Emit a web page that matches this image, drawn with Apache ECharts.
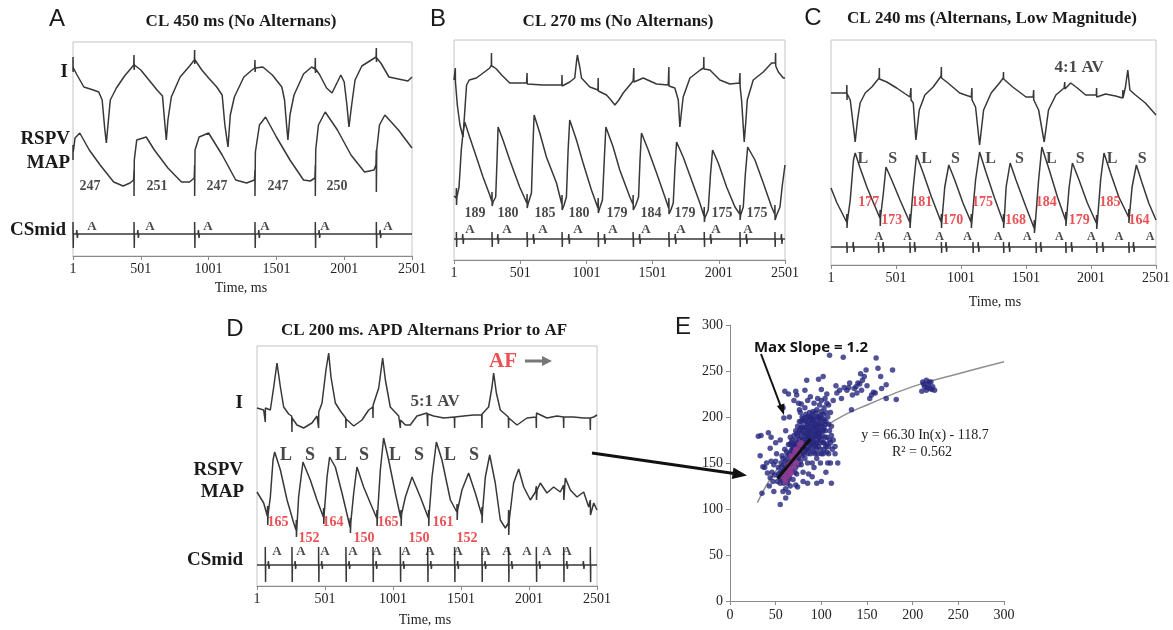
<!DOCTYPE html>
<html lang="en">
<head>
  <meta charset="UTF-8">
  <script src="https://cdn.jsdelivr.net/npm/echarts@6/dist/echarts.min.js"></script>
  <style>body{margin:0;background:#fff;}</style>
</head>
<body>
<div id="main" style="width:1173px;height:630px;"></div>
<script>
  // time axis: 0 ms is labelled "1"; trace levels are read as pixel rows of the figure
  var traceI_A = [[0,70],[0,57],[1,72],[3,68],[30,75],[80,87],[150,90],[190,92],[215,100],[235,130],[246,143],[258,125],[275,100],[320,88],[380,76],[430,68],[448,65],[450,55],[451,70],[453,65],[500,70],[560,80],[620,90],[660,96],[675,120],[688,140],[700,120],[725,97],[790,77],[860,66],[895,60],[897,50],[898,64],[900,60],[950,70],[1000,78],[1060,87],[1100,95],[1120,125],[1143,147],[1160,115],[1190,97],[1260,77],[1320,70],[1340,68],[1342,60],[1343,72],[1345,68],[1400,67],[1470,75],[1540,87],[1560,100],[1575,125],[1585,140],[1600,115],[1630,95],[1700,74],[1760,67],[1785,69],[1787,58],[1788,73],[1790,69],[1820,75],[1870,88],[1910,93],[1950,82],[1975,75],[2000,82],[2020,105],[2035,127],[2055,105],[2080,80],[2130,66],[2200,60],[2235,57],[2237,48],[2238,62],[2240,58],[2270,63],[2330,77],[2400,79],[2470,81],[2500,77]];
  var traceMAP_A = [[0,160],[0,145],[2,152],[15,138],[50,133],[120,150],[200,165],[300,182],[370,186],[420,183],[447,180],[450,170],[450,196],[452,160],[470,140],[540,137],[600,150],[700,168],[800,182],[860,182],[894,178],[897,165],[897,196],[900,150],[930,137],[1000,133],[1100,155],[1200,180],[1280,183],[1338,180],[1342,170],[1342,196],[1345,152],[1375,125],[1420,117],[1500,137],[1600,160],[1700,180],[1750,181],[1784,178],[1787,165],[1787,196],[1790,150],[1810,125],[1860,112],[1950,130],[2050,155],[2150,172],[2220,170],[2234,165],[2237,150],[2237,192],[2240,150],[2260,125],[2300,115],[2400,130],[2500,148]];
  var stimA = [0,450,897,1342,1787,2237];
  var atrA = [30,480,927,1372,1817,2267];
  var apdA = [247,251,247,247,250];
  var apdA_t = [125,620,1062,1512,1947];
  var aMarkA_t = [140,568,996,1416,1858,2323];

  var traceI_B = [[0,80],[10,80],[10,68],[11,82],[13,80],[25,105],[45,125],[68,137],[82,110],[95,85],[115,80],[169,78],[230,72],[270,68],[282,65],[283,53],[284,66],[300,67],[320,69],[360,75],[421,83],[480,83],[548,83],[552,73],[553,84],[560,83],[673,85],[780,85],[814,85],[816,75],[817,86],[820,85],[874,82],[912,78],[925,62],[932,55],[942,62],[950,67],[963,78],[1026,87],[1087,90],[1089,78],[1090,91],[1095,91],[1152,95],[1185,100],[1215,105],[1245,100],[1278,93],[1353,81],[1356,81],[1358,68],[1359,82],[1362,80],[1429,78],[1530,84],[1618,85],[1621,85],[1623,67],[1624,86],[1630,86],[1668,88],[1694,100],[1706,127],[1718,112],[1731,97],[1782,78],[1860,70],[1885,68],[1887,57],[1888,69],[1900,68],[1933,70],[2008,80],[2084,84],[2155,83],[2160,73],[2161,86],[2165,92],[2172,100],[2192,142],[2205,120],[2215,100],[2260,80],[2336,72],[2399,63],[2427,63],[2429,53],[2430,66],[2450,72],[2487,78],[2500,78]];
  var traceMAP_B = [[0,196],[16,198],[18,188],[19,205],[22,197],[38,187],[55,150],[68,133],[81,122],[118,137],[169,157],[219,177],[270,195],[285,201],[287,192],[288,206],[295,202],[315,197],[325,160],[333,127],[370,140],[421,160],[496,187],[550,203],[552,194],[553,208],[559,204],[585,193],[595,150],[605,115],[648,133],[698,157],[774,183],[814,204],[816,195],[817,210],[829,206],[849,197],[862,150],[874,120],[925,140],[975,163],[1038,190],[1087,208],[1089,198],[1090,213],[1096,210],[1121,200],[1135,160],[1147,127],[1202,147],[1252,170],[1328,197],[1351,204],[1353,195],[1354,210],[1373,205],[1394,197],[1405,160],[1416,133],[1467,150],[1530,173],[1593,197],[1621,208],[1623,198],[1624,214],[1638,210],[1656,203],[1668,170],[1681,142],[1731,157],[1794,180],[1857,203],[1888,216],[1890,207],[1891,222],[1895,218],[1920,210],[1937,175],[1953,150],[1996,163],[2059,187],[2122,207],[2158,214],[2160,205],[2161,220],[2165,215],[2185,207],[2200,175],[2218,147],[2273,160],[2336,183],[2399,207],[2422,214],[2424,205],[2425,220],[2437,215],[2462,207],[2480,185],[2500,165]];
  var stimB = [18,287,552,816,1089,1353,1623,1890,2160,2424];
  var atrB = [68,333,602,869,1139,1404,1673,1940,2210,2475];
  var apdB = [189,180,185,180,179,184,179,175,175];
  var apdB_t = [159,408,687,944,1231,1488,1745,2024,2289];
  var aMarkB_t = [121,400,672,937,1201,1450,1715,1979,2221];

  var traceI_C = [[0,93],[120,93],[122,85],[123,100],[125,94],[148,100],[173,127],[186,142],[204,120],[224,103],[263,93],[314,87],[370,78],[372,68],[373,79],[380,78],[429,82],[505,88],[607,97],[613,97],[615,88],[616,100],[633,103],[653,140],[679,110],[722,95],[786,87],[847,76],[849,67],[850,78],[858,78],[900,83],[990,93],[1079,97],[1082,97],[1084,88],[1085,100],[1112,107],[1143,145],[1174,110],[1232,93],[1296,83],[1325,78],[1327,72],[1328,79],[1335,80],[1398,87],[1500,97],[1555,97],[1559,90],[1560,100],[1597,110],[1640,142],[1673,110],[1730,95],[1793,88],[1796,88],[1798,82],[1799,89],[1844,83],[1895,88],[1959,95],[2041,95],[2043,88],[2044,97],[2112,94],[2189,96],[2243,98],[2245,90],[2246,98],[2265,87],[2283,70],[2299,90],[2342,95],[2418,103],[2500,115]];
  var traceMAP_C = [[0,188],[46,203],[97,216],[120,222],[122,214],[123,228],[126,221],[148,200],[173,160],[186,153],[224,168],[276,187],[327,203],[376,218],[378,210],[379,226],[382,216],[403,193],[423,167],[467,180],[531,200],[605,222],[607,214],[608,228],[612,221],[633,187],[658,155],[709,173],[773,197],[847,222],[849,214],[850,228],[853,221],[875,187],[906,165],[952,180],[1015,203],[1077,222],[1079,214],[1080,228],[1084,221],[1112,180],[1143,152],[1194,173],[1258,198],[1325,222],[1327,214],[1328,228],[1332,221],[1347,187],[1378,163],[1423,180],[1500,207],[1562,228],[1564,220],[1565,233],[1570,226],[1597,180],[1622,147],[1679,170],[1742,197],[1804,220],[1806,212],[1807,226],[1812,218],[1832,187],[1857,163],[1908,180],[1972,203],[2041,223],[2043,215],[2044,229],[2050,220],[2074,180],[2100,153],[2150,173],[2214,197],[2289,217],[2291,209],[2292,223],[2296,215],[2316,187],[2349,165],[2393,183],[2444,203],[2500,220]];
  var stimC = [122,365,607,849,1092,1327,1577,1806,2043,2291];
  var atrC = [173,403,645,887,1135,1372,1615,1852,2092,2329];
  var apdC = [177,173,181,170,175,168,184,179,185,164];
  var apdC_t = [291,468,698,936,1166,1419,1656,1910,2147,2370];
  var beatC = ['L','S','L','S','L','S','L','S','L','S'];
  var beatC_t = [245,475,736,958,1227,1449,1695,1917,2163,2393];
  var aMarkC_t = [368,590,836,1051,1288,1511,1756,2002,2216,2454];

  var traceI_D = [[0,408],[49,410],[59,410],[61,410],[61,422],[62,408],[98,410],[123,387],[147,363],[172,387],[196,407],[233,414],[255,416],[257,416],[257,432],[258,418],[294,425],[343,428],[404,423],[441,416],[451,414],[453,414],[453,428],[454,412],[478,403],[507,370],[527,353],[544,377],[576,403],[613,411],[652,418],[654,418],[654,428],[655,419],[711,426],[772,420],[821,410],[851,407],[853,407],[853,418],[854,405],[895,388],[924,358],[944,380],[980,407],[1042,416],[1052,418],[1054,418],[1054,428],[1055,420],[1091,425],[1127,425],[1176,416],[1250,413],[1255,413],[1255,426],[1256,414],[1299,416],[1373,418],[1451,417],[1453,417],[1453,428],[1454,417],[1520,416],[1593,415],[1652,415],[1654,415],[1654,428],[1655,414],[1703,407],[1728,387],[1740,373],[1760,393],[1789,410],[1848,417],[1850,417],[1850,428],[1851,418],[1912,425],[1985,418],[2052,417],[2054,417],[2054,428],[2055,413],[2132,418],[2206,416],[2253,417],[2255,417],[2255,428],[2256,417],[2328,417],[2402,418],[2449,418],[2451,418],[2451,430],[2452,418],[2476,417],[2500,415]];
  var traceMAP_D = [[0,492],[49,503],[76,516],[78,506],[79,525],[82,514],[98,497],[118,460],[130,452],[172,470],[221,500],[270,523],[287,530],[289,520],[290,537],[293,528],[306,497],[338,462],[392,480],[441,500],[488,517],[490,508],[491,524],[494,514],[515,477],[534,457],[576,467],[625,493],[684,527],[686,518],[687,533],[690,522],[711,493],[735,467],[784,487],[833,503],[880,518],[882,510],[883,526],[886,515],[907,470],[931,438],[968,460],[1017,493],[1057,518],[1059,510],[1060,526],[1063,514],[1091,497],[1140,477],[1201,497],[1260,518],[1262,510],[1263,526],[1266,514],[1287,477],[1319,442],[1360,460],[1422,500],[1469,512],[1471,504],[1472,520],[1475,510],[1507,490],[1556,473],[1605,493],[1652,515],[1654,507],[1655,523],[1658,512],[1679,477],[1711,455],[1752,483],[1789,520],[1826,528],[1848,523],[1850,510],[1851,535],[1855,520],[1887,483],[1924,469],[1961,487],[2010,500],[2047,492],[2054,486],[2055,500],[2060,490],[2083,483],[2132,493],[2181,487],[2230,492],[2255,485],[2256,500],[2267,478],[2304,490],[2353,497],[2402,492],[2439,507],[2451,500],[2452,515],[2476,503],[2500,510]];
  var stimD = [61,257,453,654,853,1054,1255,1453,1654,1850,2054,2255,2451];
  var atrD = [86,282,478,679,878,1079,1280,1478,1679,1875,2079,2280,2402];
  var apdD = [165,152,164,150,165,150,161,152];
  var apdD_t = [154,382,559,787,963,1191,1368,1544];
  var beatD = ['L','S','L','S','L','S','L','S'];
  var beatD_t = [213,390,618,787,1015,1191,1419,1596];
  var aMarkD_t = [147,324,500,706,882,1096,1272,1478,1684,1838,1985,2132,2279];

  var timeTicks = [1,501,1001,1501,2001,2501];

  // panel E: DI (x) vs APD (y)
  var restPts = [[31,179],[34,180],[42,183],[33,158],[44,166],[36,146],[41,139],[35,117],[55,105],[48,119],[58,119],[61,122],[60,228],[59,199],[72,228],[73,224],[82,229],[84,240],[78,214],[76,208],
    [102,244],[109,267],[124,265],[104,220],[108,213],[113,218],[120,229],[122,220],[128,229],[133,208],[134,224],[138,233],[140,237],[144,229],[147,244],[149,251],[153,220],[157,227],[160,264],[162,253],[165,244],[166,231],[171,235],[178,251],[171,220],[182,219],[159,226],[131,237],[136,231],[142,236],[145,240],[150,234],[155,224],[97,241],[100,230],[106,225],[116,234],[125,232],[130,232],[139,226],[143,247],[117,226],
    [211,238],[213,233],[215,240],[217,235],[219,231],[222,233],[220,238],[210,228],[215,229],[224,229],[212,236],[218,238],[216,232],[221,230],
    [52,130],[54,135],[55,128],[57,140],[58,133],[60,137],[61,145],[62,130],[63,150],[64,140],[65,135],[66,147],[67,155],[68,142],[69,132],[70,150],[71,160],[72,145],[73,138],[74,155],[75,165],[63,128],[66,125],[59,148],[56,150],[53,145],[50,152],[48,148],[46,140],[45,152],[49,137],[51,160],[47,130],[44,134],[57,158],[62,162],[68,165],[70,170],[64,170],[60,165],
    [72,175],[74,180],[75,170],[76,185],[77,160],[78,178],[79,190],[80,168],[81,182],[82,175],[83,195],[84,165],[85,185],[86,178],[87,170],[88,190],[89,182],[90,175],[91,198],[92,168],[93,188],[94,180],[95,172],[96,195],[97,185],[98,178],[99,165],[100,190],[101,180],[102,172],[103,197],[104,185],[105,168],[106,178],[108,160],[110,172],[112,165],[107,150],[111,128],[99,150],[95,155],[92,145],[88,160],[85,150],[82,155],[78,148],[80,140],[86,138],[90,150],[96,160],[93,160],[89,170],[84,200],[87,205],[90,203],[94,205],[97,200],[100,206],[102,203],[98,193],[95,190],[92,195],[86,195],[81,196],[79,200],[76,195],[74,190],[72,185],[70,180],[68,175],[66,178],[77,205],[82,210],[88,198],[92,178],[85,172],[80,188],[83,180],[91,185],[96,182],[100,175],[104,192],[107,200],[105,205],[109,185],[113,175],[115,168],[111,190],[75,148],[79,158],[83,165],[87,180],[94,168],[98,172],[102,160],[106,170],[73,168],[69,160],[65,160],[71,140],[77,152],[80,130],[85,128],[95,128],[74,124],
    [74,172],[76,176],[78,183],[80,176],[81,170],[82,188],[83,172],[84,182],[85,192],[86,186],[87,175],[88,184],[89,193],[90,188],[91,178],[92,190],[93,182],[94,192],[95,185],[96,175],[97,190],[98,198],[99,185],[101,193],[103,188],[105,195],[78,195],[80,198],[83,203],[86,200],[89,200],[91,206],[93,200],[95,208],[99,202],[101,198],[76,165],[79,172],[82,162],[85,160],[88,165],[91,162],[94,165],[97,168],[100,160],[103,165],[106,162],[109,175],[111,180],[74,160],[71,155],[69,168],[67,163],[65,152],[63,158],[61,153],[59,142],[57,145],[55,140],[53,138],[56,132],[59,128],[62,136],[64,132],[58,155],[66,170],[72,170],[77,188],[84,190],[90,196],[96,200],[102,185],[108,192],[104,178],[98,182],[92,172],[86,166],[80,160],[75,155],[70,165],[67,172],[73,182],[79,185],[85,178],[91,172],[97,178],[103,172],[108,168],
    [64,225],[70,218],[75,215],[58,210],[92,215],[98,213],[103,210],[96,220],[88,222],[85,218],[100,218],[106,215],[110,205],[65,200],[61,185],[55,175],[50,172],[45,178],[40,150],[38,145],[43,125],[61,112],[64,118],[72,126],[90,135],[105,140],[110,150],[115,160],[118,150],[100,130]];
  var densePts = [[60,138],[62,142],[64,148],[66,150],[67,140],[69,155],[70,145],[72,158],[73,150],[75,160],[63,135],[65,143],[68,152],[71,162],[58,135],[61,130],[74,165],[76,170],[78,172],[66,138],[60,132],[63,145],[67,158],[70,155],[72,165]];
  var fitPts = [[30,107],[40,126],[50,141],[60,153],[70,163],[80,172],[100,187],[125,202],[150,213],[200,233],[250,247],[300,260]];
  var slopePts = [[52,133],[88,176]];

  var chart = echarts.init(document.getElementById('main'));

  var serif = '"Liberation Serif", "DejaVu Serif", serif';
  var sans = '"Liberation Sans", Arial, sans-serif';
  var red = '#e3262b';

  function csTrace(base, stim, atr, up, down, aAmp) {
    var ev = [];
    stim.forEach(function (t) { ev.push([t, 's']); });
    atr.forEach(function (t) { ev.push([t, 'a']); });
    ev.sort(function (a, b) { return a[0] - b[0]; });
    var d = [[0, base]];
    ev.forEach(function (e) {
      var t = e[0];
      if (e[1] === 's') {
        d.push([t, base], [t, base - up], [t + 2, base + down], [t + 3, base]);
      } else {
        d.push([t - 5, base], [t - 2, base - aAmp], [t + 2, base + aAmp], [t + 5, base]);
      }
    });
    d.push([2500, base]);
    return d;
  }

  function trace(idx, data) {
    return {
      type: 'line', xAxisIndex: idx, yAxisIndex: idx, data: data,
      symbol: 'none', silent: true, clip: true,
      lineStyle: {color: '#383838', width: 1.5}
    };
  }

  function texts(idx, xs, y, vals, size, color) {
    return {
      type: 'scatter', xAxisIndex: idx, yAxisIndex: idx, silent: true,
      symbolSize: 1, itemStyle: {color: 'rgba(0,0,0,0)'},
      data: xs.map(function (x, i) { return [x, y, String(vals[i])]; }),
      label: {
        show: true, position: 'inside', formatter: function (p) { return p.data[2]; },
        fontFamily: serif, fontWeight: 'bold', fontSize: size, color: color || '#1a1a1a'
      },
      z: 5
    };
  }

  function rep(s, n) { var a = []; for (var i = 0; i < n; i++) a.push(s); return a; }

  var boxes = [
    {left: 73, top: 42, width: 339, height: 214},
    {left: 454, top: 40, width: 331, height: 220},
    {left: 831, top: 40, width: 326, height: 225},
    {left: 257, top: 346, width: 340, height: 240}
  ];

  var grids = boxes.map(function (b) {
    return {left: b.left, top: b.top, width: b.width, height: b.height, show: true, borderColor: '#c4c4c4', borderWidth: 1, backgroundColor: '#fff'};
  });
  grids.push({left: 730, top: 325, width: 274, height: 276});

  var xAxes = boxes.map(function (b, i) {
    return {
      type: 'value', gridIndex: i, min: 0, max: 2500, interval: 500,
      axisLine: {lineStyle: {color: '#8a8a8a'}},
      axisTick: {show: true, length: 4, lineStyle: {color: '#8a8a8a'}},
      splitLine: {show: false},
      axisLabel: {margin: 6, fontFamily: serif, fontSize: 14, color: '#222', formatter: function (v) { return timeTicks[v / 500]; }}
    };
  });
  var yAxes = boxes.map(function (b, i) {
    return {type: 'value', gridIndex: i, min: b.top, max: b.top + b.height, inverse: true, show: false};
  });
  xAxes.push({
    type: 'value', gridIndex: 4, min: 0, max: 300, interval: 50,
    axisLine: {lineStyle: {color: '#8a8a8a'}}, axisTick: {length: 4, lineStyle: {color: '#8a8a8a'}},
    splitLine: {show: false}, axisLabel: {margin: 7, fontFamily: serif, fontSize: 14, color: '#222'}
  });
  yAxes.push({
    type: 'value', gridIndex: 4, min: 0, max: 300, interval: 50,
    axisLine: {show: true, lineStyle: {color: '#8a8a8a'}}, axisTick: {show: true, length: 4, lineStyle: {color: '#8a8a8a'}},
    splitLine: {show: false}, axisLabel: {margin: 7, fontFamily: serif, fontSize: 14, color: '#222'}
  });

  var series = [
    trace(0, traceI_A), trace(0, traceMAP_A), trace(0, csTrace(234, stimA, atrA, 12, 14, 4)),
    texts(0, apdA_t, 186, apdA, 14),
    texts(0, aMarkA_t, 227, rep('A', 6), 13),

    trace(1, traceI_B), trace(1, traceMAP_B), trace(1, csTrace(239, stimB, atrB, 7, 8, 5)),
    texts(1, apdB_t, 213, apdB, 14),
    texts(1, aMarkB_t, 230, rep('A', 9), 13),

    trace(2, traceI_C), trace(2, traceMAP_C), trace(2, csTrace(247, stimC, atrC, 5, 6, 5)),
    texts(2, apdC_t.filter(function (t, i) { return i % 2 === 0; }), 202, apdC.filter(function (t, i) { return i % 2 === 0; }), 14, red),
    texts(2, apdC_t.filter(function (t, i) { return i % 2 === 1; }), 220, apdC.filter(function (t, i) { return i % 2 === 1; }), 14, red),
    texts(2, beatC_t, 159, beatC, 16),
    texts(2, aMarkC_t, 237, rep('A', 10), 12),
    texts(2, [1909], 68, ['4:1 AV'], 17),

    trace(3, traceI_D), trace(3, traceMAP_D), trace(3, csTrace(565, stimD, atrD, 18, 17, 4)),
    texts(3, apdD_t.filter(function (t, i) { return i % 2 === 0; }), 522, apdD.filter(function (t, i) { return i % 2 === 0; }), 14, red),
    texts(3, apdD_t.filter(function (t, i) { return i % 2 === 1; }), 538, apdD.filter(function (t, i) { return i % 2 === 1; }), 14, red),
    texts(3, beatD_t, 455, beatD, 18),
    texts(3, aMarkD_t, 552, rep('A', 13), 13),
    texts(3, [1309], 402, ['5:1 AV'], 17),
    texts(3, [1809], 362, ['AF'], 21, red),

    {type: 'line', xAxisIndex: 4, yAxisIndex: 4, data: fitPts, smooth: true, symbol: 'none', silent: true,
      lineStyle: {color: '#8f8f8f', width: 1.5}, z: 2},
    {type: 'scatter', xAxisIndex: 4, yAxisIndex: 4, data: restPts, symbolSize: 5.5, silent: true,
      itemStyle: {color: '#27277e'}, z: 3},
    {type: 'scatter', xAxisIndex: 4, yAxisIndex: 4, data: densePts, symbolSize: 5.5, silent: true,
      itemStyle: {color: '#8e3c8f', opacity: 0.85}, z: 3},
    {type: 'line', xAxisIndex: 4, yAxisIndex: 4, data: slopePts, symbol: 'none', silent: true,
      lineStyle: {color: '#111', width: 3}, z: 4}
  ];

  function txt(s, x, y, font, color, align) {
    return {type: 'text', x: x, y: y, silent: true, z: 10,
      style: {text: s, font: font, fill: color || '#1a1a1a', align: align || 'center', verticalAlign: 'middle'}};
  }
  var tFont = 'bold 17px ' + serif;
  var chFont = 'bold 19px ' + serif;
  var pFont = '24px ' + sans;

  var graphic = [
    txt('A', 57, 19, pFont), txt('CL 450 ms (No Alternans)', 241, 22, tFont),
    txt('I', 68, 72, chFont, null, 'right'), txt('RSPV', 70, 139, chFont, null, 'right'), txt('MAP', 70, 163, chFont, null, 'right'), txt('CSmid', 66, 230, chFont, null, 'right'),
    txt('Time, ms', 241, 288, '14px ' + serif, '#222'),

    txt('B', 438, 19, pFont), txt('CL 270 ms (No Alternans)', 618, 22, tFont),

    txt('C', 813, 18, pFont), txt('CL 240 ms (Alternans, Low Magnitude)', 992, 19, tFont),
    txt('Time, ms', 995, 302, '14px ' + serif, '#222'),

    txt('D', 235, 329, pFont), txt('CL 200 ms. APD Alternans Prior to AF', 424, 331, tFont),
    txt('I', 243, 403, chFont, null, 'right'), txt('RSPV', 243, 470, chFont, null, 'right'), txt('MAP', 244, 492, chFont, null, 'right'), txt('CSmid', 243, 560, chFont, null, 'right'),
    txt('Time, ms', 425, 620, '14px ' + serif, '#222'),
    {type: 'line', silent: true, z: 10, shape: {x1: 525, y1: 361, x2: 543, y2: 361}, style: {stroke: '#777', lineWidth: 3}},
    {type: 'polygon', silent: true, z: 10, shape: {points: [[542, 356], [552, 361], [542, 366]]}, style: {fill: '#777'}},

    txt('E', 683, 327, pFont),
    txt('Max Slope = 1.2', 811, 348, 'bold 15px "Open Sans", ' + sans, '#111'),
    {type: 'line', silent: true, z: 10, shape: {x1: 761, y1: 354, x2: 781, y2: 407}, style: {stroke: '#111', lineWidth: 2}},
    {type: 'polygon', silent: true, z: 10, shape: {points: [[776.8, 406], [784, 415], [784.4, 403.5]]}, style: {fill: '#111'}},
    txt('y = 66.30 In(x) - 118.7', 925, 435, '14px ' + serif, '#222'),
    txt('R\u00b2 = 0.562', 922, 452, '14px ' + serif, '#222'),

    {type: 'line', silent: true, z: 10, shape: {x1: 592, y1: 453, x2: 734, y2: 473.5}, style: {stroke: '#111', lineWidth: 3}},
    {type: 'polygon', silent: true, z: 10, shape: {points: [[733.5, 467.5], [747, 475.5], [731.8, 479]]}, style: {fill: '#111'}}
  ];

  chart.setOption({
    animation: false,
    backgroundColor: '#fff',
    grid: grids,
    xAxis: xAxes,
    yAxis: yAxes,
    series: series,
    graphic: graphic
  });
</script>
</body>
</html>
